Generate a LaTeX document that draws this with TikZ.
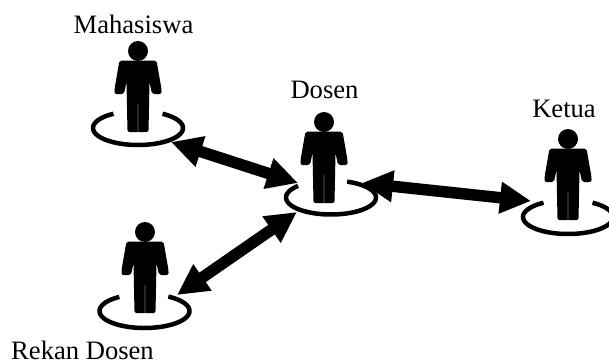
\documentclass[tikz,border=0pt]{standalone}
\usepackage{fontspec}
\setmainfont{Liberation Serif}
\usetikzlibrary{arrows.meta}
\tikzset{
  lbl/.style={anchor=base,inner sep=0pt,font=\fontsize{26.6}{26.6}\selectfont},
  link/.style={line width=11.5pt,{Triangle[length=31pt,width=30pt]}-{Triangle[length=31pt,width=30pt]}},
  ring/.style={line width=4.5pt,line cap=butt,black},
  figfill/.style={fill=black,draw=none}
}
% #1 fig x, #2 head y, #3 ring cx, #4 ring cy, #5 start angle, #6 end angle
\newcommand{\personfig}[6]{%
  \begin{scope}[shift={(#1,#2)}]
    \fill[figfill] (0,0) circle (10);
    \fill[figfill,rounded corners=2pt]
      (-18.5,9.5) -- (18.5,9.5) -- (23.5,38) -- (23.5,43) -- (14,43) -- (11.5,31) -- (10.5,81)
      -- (-10.5,81) -- (-11.5,31) -- (-14,43) -- (-23.5,43) -- (-23.5,38) -- cycle;
    \draw[black!85,line width=1.2pt] (0,53) -- (0,81);
  \end{scope}
  \draw[ring] plot[domain=#5:#6,samples=70,smooth] ({#3+45*cos(\x)},{#4+17*sin(\x)});
}
\begin{document}
\begin{tikzpicture}[x=1pt,y=-1pt]
  \useasboundingbox (0,0) rectangle (609,362);
  \clip (0,0) rectangle (609,362);
  \personfig{138}{51}{138}{128}{-57}{237}
  \personfig{324}{122}{331}{197.5}{-69}{223}
  \personfig{568}{139}{568}{217}{-57}{237}
  \personfig{145}{232}{144.5}{311}{-58}{236}
  \node[lbl] (mhs) at (133.5,33) {Mahasiswa};
  \node[lbl] (dsn) at (324.5,98) {Dosen};
  \node[lbl] (kta) at (564,117) {Ketua};
  \node[lbl] (rkn) at (82.5,359.5) {Rekan Dosen};
  \coordinate (mT) at (171,142);
  \coordinate (dA) at (298,183);
  \coordinate (dB) at (362,183);
  \coordinate (kT) at (531,201);
  \coordinate (dC) at (297,212);
  \coordinate (rT) at (177,295);
  \draw[link] (mT) -- (dA);
  \draw[link] (dB) -- (kT);
  \draw[link] (rT) -- (dC);
\end{tikzpicture}
\end{document}
